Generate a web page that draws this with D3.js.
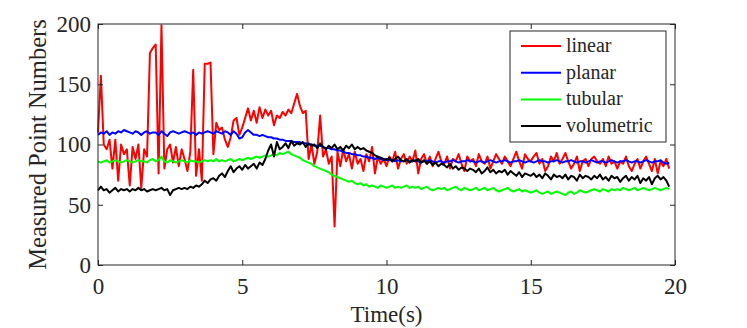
<!DOCTYPE html>
<html>
<head>
<meta charset="utf-8">
<script src="https://cdn.jsdelivr.net/npm/d3@7"></script>
<style>
  body { margin: 0; background: #fff; }
</style>
</head>
<body>
<div id="chart"></div>
<script>
// sample step of the recording (s)
const step = 0.1;
const serif = "'Liberation Serif', 'Times New Roman', Times, serif";

const seriesNames = ['linear', 'planar', 'tubular', 'volumetric'];
const seriesColors = ['#ff0000', '#0000ff', '#00ff00', '#000000'];

const xTicks = [0, 5, 10, 15, 20];
const yTicks = [0, 50, 100, 150, 200];

// measured point numbers, one value every 0.1 s from 0 to 19.8 s
const linear = [
  110, 157, 100, 96, 104, 80, 104, 70, 100, 92,
  96, 66, 98, 88, 100, 64, 96, 90, 176, 180,
  183, 76, 199, 80, 96, 100, 85, 98, 82, 96,
  88, 78, 94, 162, 74, 96, 70, 167, 167, 168,
  92, 118, 112, 114, 104, 98, 106, 120, 122, 108,
  114, 122, 130, 120, 128, 118, 131, 122, 129, 124,
  128, 116, 124, 122, 127, 124, 129, 126, 134, 142,
  132, 126, 128, 88, 100, 84, 94, 124, 90, 96,
  84, 90, 32, 94, 82, 96, 86, 92, 80, 94,
  84, 88, 78, 92, 86, 98, 76, 90, 84, 88,
  82, 90, 86, 94, 80, 88, 92, 84, 90, 86,
  95, 76, 88, 92, 84, 90, 82, 88, 94, 86,
  84, 90, 80, 88, 86, 92, 84, 78, 90, 86,
  88, 82, 92, 86, 84, 90, 80, 86, 92, 88,
  84, 90, 86, 82, 88, 94, 86, 80, 92, 88,
  86, 90, 93, 84, 88, 78, 82, 90, 86, 93,
  84, 88, 93, 86, 80, 84, 90, 78, 86, 88,
  82, 88, 90, 86, 84, 88, 82, 90, 84, 86,
  80, 86, 84, 90, 82, 78, 84, 88, 80, 86,
  90, 84, 78, 88, 76, 86, 82, 88, 80
];

const planar = [
  108, 110, 109, 111, 108, 110, 109, 111, 110, 112,
  111, 110, 109, 111, 110, 108, 110, 111, 109, 110,
  110, 108, 111, 109, 107, 110, 111, 110, 109, 110,
  111, 110, 109, 110, 108, 110, 109, 110, 111, 110,
  109, 111, 110, 109, 111, 110, 108, 111, 109, 105,
  106, 110, 112, 110, 108, 108, 107, 108, 107, 106,
  106, 105, 105, 104, 104, 103, 103, 103, 102, 102,
  102, 101, 101, 100, 100, 99, 99, 99, 98, 97,
  97, 96, 96, 95, 95, 94, 93, 93, 92, 92,
  91, 91, 90, 90, 89, 89, 88, 89, 88, 87,
  88, 87, 87, 86, 87, 86, 86, 87, 86, 86,
  87, 86, 85, 86, 86, 87, 86, 85, 86, 86,
  85, 86, 86, 87, 86, 85, 86, 86, 87, 86,
  86, 85, 86, 86, 85, 86, 87, 86, 85, 86,
  86, 87, 86, 85, 86, 86, 87, 86, 85, 86,
  86, 85, 86, 87, 86, 86, 85, 86, 86, 87,
  86, 85, 86, 86, 87, 86, 85, 86, 86, 85,
  86, 87, 86, 85, 86, 86, 85, 86, 87, 86,
  85, 86, 86, 87, 86, 85, 86, 86, 85, 86,
  87, 86, 85, 86, 86, 87, 85, 84, 85
];

const tubular = [
  86, 85, 86, 87, 85, 86, 87, 86, 85, 86,
  87, 86, 85, 86, 87, 86, 86, 85, 87, 88,
  86, 87, 90, 86, 85, 87, 86, 85, 86, 87,
  86, 85, 87, 86, 86, 85, 86, 87, 86, 87,
  86, 88, 86, 87, 86, 87, 88, 86, 87, 88,
  87, 88, 89, 88, 89, 90, 89, 90, 91, 90,
  91, 92, 91, 93, 92, 93, 94, 92, 91, 90,
  89, 87, 86, 85, 84, 82, 81, 80, 79, 78,
  77, 75, 74, 73, 72, 71, 70, 69, 70, 68,
  67, 68, 66, 67, 65, 66, 65, 64, 66, 65,
  64, 65, 66, 64, 65, 64, 65, 66, 64, 65,
  64, 65, 63, 64, 65, 63, 62, 63, 64, 63,
  64, 62, 63, 64, 65, 63, 62, 64, 63, 62,
  63, 64, 62, 63, 64, 62, 63, 64, 62, 61,
  62, 63, 64, 62, 61, 62, 63, 61, 62, 61,
  60, 61, 62, 60, 59, 60, 61, 59, 60, 61,
  60, 59, 58, 60, 61, 59, 60, 62, 61, 60,
  61, 62, 63, 62, 61, 63, 62, 61, 63, 62,
  63, 62, 64, 63, 62, 63, 64, 62, 63, 64,
  63, 62, 63, 64, 63, 62, 63, 64, 63
];

const volumetric = [
  62, 65, 62, 63, 60, 62, 64, 61, 63, 62,
  63, 61, 63, 62, 64, 62, 63, 61, 62, 63,
  62, 63, 64, 62, 63, 58, 62, 63, 64, 63,
  64, 63, 65, 64, 66, 65, 67, 70, 68, 71,
  72, 70, 74, 76, 73, 78, 82, 77, 80, 82,
  79, 83, 80, 82, 84, 80, 85, 83, 88, 95,
  100, 90, 102, 96, 98, 101, 97, 103, 99, 101,
  100, 102, 98, 101, 99, 100, 97, 101, 98, 96,
  99, 97, 100, 96, 98, 95, 99, 97, 100, 96,
  98, 96, 97, 95, 94, 93, 91, 90, 89, 88,
  87, 89, 86, 88, 90, 87, 86, 88, 85, 87,
  86, 88, 85, 87, 84, 86, 83, 85, 82, 84,
  83, 81, 84, 80, 82, 79, 81, 80, 78, 80,
  79, 77, 80, 76, 78, 81, 77, 79, 76, 78,
  77, 79, 75, 78, 76, 74, 77, 73, 76, 75,
  74, 76, 73, 75, 72, 76, 74, 71, 75, 73,
  74, 72, 75, 71, 74, 73, 70, 75, 72, 74,
  73, 71, 74, 72, 75, 71, 73, 70, 74, 72,
  73, 69, 72, 74, 70, 73, 71, 74, 68, 72,
  70, 73, 67, 72, 74, 71, 73, 70, 65
];

const seriesValues = [linear, planar, tubular, volumetric];

const width = 747;
const height = 328;
const margin = { top: 24, right: 72, bottom: 63, left: 98 };

const svg = d3.select('#chart')
  .append('svg')
  .attr('width', width)
  .attr('height', height)
  .style('font-family', serif);

const x = d3.scaleLinear()
  .domain([0, 20])
  .range([margin.left, width - margin.right]);

const y = d3.scaleLinear()
  .domain([0, 200])
  .range([height - margin.bottom, margin.top]);

// data lines
const line = d3.line()
  .x((d, i) => x(i * step))
  .y(d => y(d));

svg.append('g')
  .selectAll('path')
  .data(seriesValues)
  .enter()
  .append('path')
  .attr('d', d => line(d))
  .attr('fill', 'none')
  .attr('stroke', (d, i) => seriesColors[i])
  .attr('stroke-width', 2)
  .attr('stroke-linejoin', 'round');

// axes, ticks pointing inward like matlab
function styleAxis(g) {
  g.attr('font-family', null).attr('font-size', null);
  g.select('.domain').remove();
  g.selectAll('.tick line').attr('stroke', '#262626');
  g.selectAll('.tick text')
    .style('font-family', serif)
    .style('font-size', '23px')
    .attr('fill', '#262626');
}

svg.append('g')
  .attr('transform', `translate(0, ${y(0)})`)
  .call(d3.axisBottom(x).tickValues(xTicks).tickSizeInner(-5).tickSizeOuter(0).tickPadding(13))
  .call(styleAxis);

svg.append('g')
  .attr('transform', `translate(${x(0)}, 0)`)
  .call(d3.axisLeft(y).tickValues(yTicks).tickSizeInner(-5).tickSizeOuter(0).tickPadding(7))
  .call(styleAxis);

svg.append('g')
  .attr('transform', `translate(0, ${y(200)})`)
  .call(d3.axisTop(x).tickValues(xTicks).tickSizeInner(-5).tickSizeOuter(0).tickFormat(''))
  .call(styleAxis);

svg.append('g')
  .attr('transform', `translate(${x(20)}, 0)`)
  .call(d3.axisRight(y).tickValues(yTicks).tickSizeInner(-5).tickSizeOuter(0).tickFormat(''))
  .call(styleAxis);

// box
svg.append('rect')
  .attr('x', x(0))
  .attr('y', y(200))
  .attr('width', x(20) - x(0))
  .attr('height', y(0) - y(200))
  .attr('fill', 'none')
  .attr('stroke', '#262626')
  .attr('stroke-width', 1);

// axis labels
svg.append('text')
  .attr('x', (x(0) + x(20)) / 2)
  .attr('y', 322)
  .attr('text-anchor', 'middle')
  .attr('fill', '#262626')
  .style('font-family', serif)
  .style('font-size', '23px')
  .text('Time(s)');

svg.append('text')
  .attr('transform', `translate(46, ${(y(0) + y(200)) / 2}) rotate(-90)`)
  .attr('text-anchor', 'middle')
  .attr('fill', '#262626')
  .style('font-family', serif)
  .style('font-size', '24.5px')
  .text('Measured Point Numbers');

// legend
const legend = svg.append('g').attr('transform', 'translate(510, 31)');

legend.append('rect')
  .attr('width', 156)
  .attr('height', 111)
  .attr('fill', '#fff')
  .attr('stroke', '#262626')
  .attr('stroke-width', 1);

const items = legend.selectAll('g.item')
  .data(seriesNames)
  .enter()
  .append('g')
  .attr('class', 'item')
  .attr('transform', (d, i) => `translate(0, ${15 + i * 26.7})`);

items.append('line')
  .attr('x1', 11)
  .attr('x2', 51)
  .attr('stroke', (d, i) => seriesColors[i])
  .attr('stroke-width', 2);

items.append('text')
  .attr('x', 56)
  .attr('dy', '0.3em')
  .attr('fill', '#262626')
  .style('font-family', serif)
  .style('font-size', '20px')
  .text(d => d);
</script>
</body>
</html>
